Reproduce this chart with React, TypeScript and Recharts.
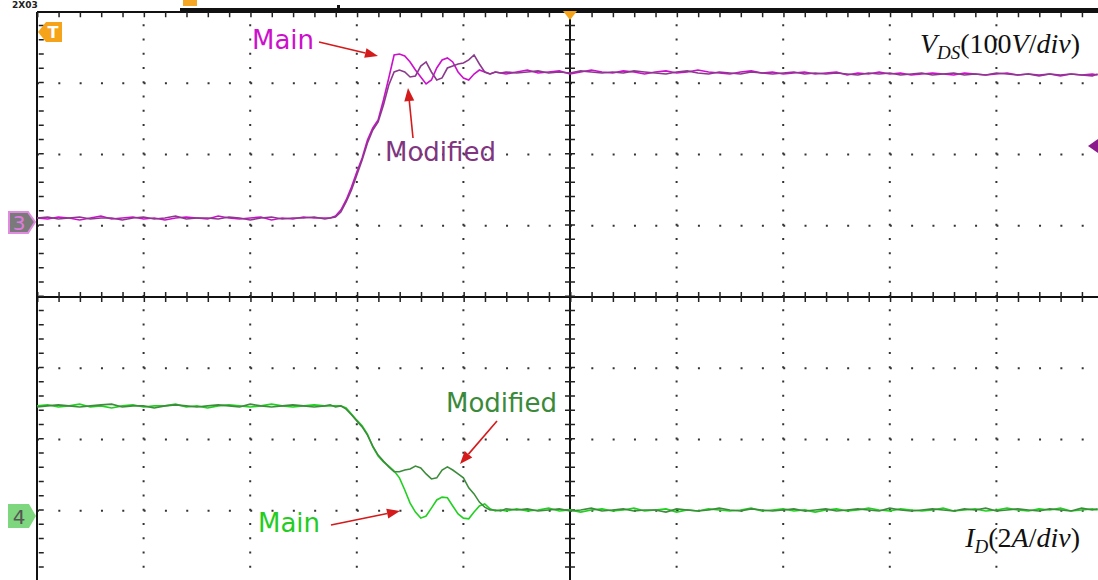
import { LineChart, Line, XAxis, YAxis, ReferenceLine } from 'recharts';

// time in scope divisions (10 div across the screen)
const timeLeft = [
  0.0, 0.1, 0.2, 0.3, 0.4, 0.5, 0.6, 0.7, 0.8, 0.9,
  1.0, 1.1, 1.2, 1.3, 1.4, 1.5, 1.6, 1.7, 1.8, 1.9,
  2.0, 2.1, 2.2, 2.3, 2.4, 2.5, 2.6, 2.7,
];
const timeEdge = [
  2.75, 2.8, 2.85, 2.9, 2.95, 3.0, 3.05, 3.1, 3.15, 3.2,
  3.25, 3.3, 3.35, 3.4, 3.45, 3.5, 3.55, 3.6, 3.65, 3.7,
  3.75, 3.8, 3.85, 3.9, 3.95, 4.0, 4.05, 4.1, 4.15, 4.2,
  4.25, 4.3, 4.35, 4.4,
];
const timeRight = [
  4.5, 4.6, 4.7, 4.8, 4.9, 5.0, 5.1, 5.2, 5.3, 5.4,
  5.5, 5.6, 5.7, 5.8, 5.9, 6.0, 6.1, 6.2, 6.3, 6.4,
  6.5, 6.6, 6.7, 6.8, 6.9, 7.0, 7.1, 7.2, 7.3, 7.4,
  7.5, 7.6, 7.7, 7.8, 7.9, 8.0, 8.1, 8.2, 8.3, 8.4,
  8.5, 8.6, 8.7, 8.8, 8.9, 9.0, 9.1, 9.2, 9.3, 9.4,
  9.5, 9.6, 9.7, 9.8, 9.9, 9.95,
];

// V_DS in volts
const vdsMain = [
  5.6, 4.2, 7.0, 5.6, 2.8, 5.6, 8.4, 4.2, 5.6, 7.0,
  4.2, 5.6, 2.8, 5.6, 7.0, 5.6, 4.2, 8.4, 5.6, 4.2,
  5.6, 7.0, 2.8, 5.6, 4.2, 7.0, 5.6, 5.6,
  5.6, 8.4, 16.8, 30.9, 49.1, 70.2, 89.8, 115.1, 131.9, 143.2,
  171.2, 202.1, 234.4, 235.8, 233.0, 224.6, 213.3, 203.5, 193.7, 199.3,
  216.1, 227.4, 230.2, 224.6, 210.5, 202.1, 199.3, 207.7, 213.3, 210.5,
  207.7, 210.5, 209.1, 207.7,
  210.5, 213.3, 209.1, 210.5, 212.0, 207.7, 210.5, 213.3, 210.5, 209.1,
  212.0, 210.5, 207.7, 210.5, 212.0, 209.1, 210.5, 213.3, 210.5, 209.1,
  207.7, 210.5, 212.0, 209.1, 210.5, 207.7, 209.1, 210.5, 207.7, 209.1,
  210.5, 206.3, 209.1, 207.7, 210.5, 207.7, 209.1, 206.3, 207.7, 209.1,
  207.7, 206.3, 209.1, 207.7, 206.3, 207.7, 209.1, 206.3, 207.7, 206.3,
  207.7, 205.0, 207.7, 206.3, 207.7, 206.3,
];
const vdsModified = [
  5.6, 7.0, 4.2, 5.6, 7.0, 4.2, 5.6, 5.6, 2.8, 5.6,
  7.0, 4.2, 5.6, 8.4, 4.2, 5.6, 5.6, 4.2, 7.0, 5.6,
  2.8, 5.6, 7.0, 4.2, 5.6, 5.6, 7.0, 4.2,
  5.6, 7.0, 14.0, 28.1, 44.9, 66.0, 87.0, 110.9, 129.1, 140.4,
  164.2, 192.3, 210.5, 213.3, 210.5, 203.5, 204.9, 218.9, 224.6, 210.5,
  199.3, 202.1, 216.1, 218.9, 221.7, 223.1, 227.4, 234.4, 221.7, 210.5,
  207.7, 210.5, 209.1, 210.5,
  209.1, 210.5, 212.0, 209.1, 210.5, 209.1, 212.0, 210.5, 209.1, 210.5,
  209.1, 212.0, 210.5, 209.1, 207.7, 210.5, 212.0, 209.1, 207.7, 210.5,
  209.1, 207.7, 210.5, 209.1, 207.7, 209.1, 210.5, 207.7, 209.1, 207.7,
  209.1, 207.7, 206.3, 209.1, 207.7, 209.1, 206.3, 207.7, 209.1, 206.3,
  207.7, 209.1, 206.3, 207.7, 206.3, 209.1, 207.7, 206.3, 207.7, 205.0,
  207.7, 206.3, 207.7, 206.3, 205.0, 207.7,
];

// I_D in amps
const idMain = [
  3.09, 3.12, 3.06, 3.09, 3.14, 3.06, 3.09, 3.03, 3.09, 3.12,
  3.06, 3.09, 3.09, 3.14, 3.06, 3.09, 3.03, 3.09, 3.12, 3.09,
  3.06, 3.09, 3.14, 3.09, 3.06, 3.09, 3.12, 3.09,
  3.09, 3.09, 3.09, 3.03, 2.86, 2.69, 2.53, 2.30, 1.94, 1.68,
  1.52, 1.40, 1.26, 1.07, 0.73, 0.36, 0.11, -0.06, 0.00, 0.22,
  0.45, 0.53, 0.51, 0.28, 0.06, -0.06, -0.08, 0.11, 0.28, 0.34,
  0.20, 0.14, 0.17, 0.14,
  0.20, 0.14, 0.17, 0.22, 0.14, 0.17, 0.11, 0.17, 0.20, 0.14,
  0.17, 0.22, 0.14, 0.17, 0.20, 0.11, 0.17, 0.14, 0.20, 0.17,
  0.14, 0.17, 0.22, 0.14, 0.17, 0.20, 0.14, 0.17, 0.11, 0.17,
  0.20, 0.14, 0.17, 0.22, 0.17, 0.14, 0.20, 0.17, 0.14, 0.17,
  0.22, 0.14, 0.17, 0.20, 0.14, 0.17, 0.22, 0.17, 0.14, 0.20,
  0.17, 0.22, 0.14, 0.17, 0.20, 0.17,
];
const idModified = [
  3.06, 3.09, 3.12, 3.09, 3.06, 3.09, 3.12, 3.14, 3.06, 3.09,
  3.09, 3.03, 3.09, 3.12, 3.09, 3.06, 3.09, 3.12, 3.09, 3.06,
  3.14, 3.09, 3.06, 3.09, 3.12, 3.09, 3.06, 3.09,
  3.12, 3.06, 3.09, 3.00, 2.84, 2.67, 2.50, 2.27, 1.96, 1.71,
  1.54, 1.38, 1.24, 1.24, 1.29, 1.32, 1.40, 1.35, 1.18, 1.04,
  1.07, 1.29, 1.38, 1.29, 1.18, 1.07, 0.79, 0.62, 0.39, 0.25,
  0.17, 0.17, 0.14, 0.20,
  0.17, 0.20, 0.14, 0.17, 0.20, 0.14, 0.17, 0.22, 0.14, 0.17,
  0.20, 0.14, 0.17, 0.17, 0.11, 0.20, 0.17, 0.14, 0.17, 0.22,
  0.17, 0.14, 0.20, 0.17, 0.14, 0.17, 0.20, 0.14, 0.17, 0.20,
  0.14, 0.17, 0.20, 0.17, 0.14, 0.22, 0.17, 0.14, 0.17, 0.20,
  0.17, 0.14, 0.20, 0.17, 0.22, 0.14, 0.17, 0.20, 0.17, 0.14,
  0.20, 0.17, 0.14, 0.22, 0.17, 0.20,
];

const gridX = [1, 2, 3, 4, 6, 7, 8, 9];
const gridY = [1, 2, 3, 5, 6, 7];

const time = [...timeLeft, ...timeEdge, ...timeRight];
const data = time.map((t, i) => ({
  t,
  vMain: vdsMain[i],
  vMod: vdsModified[i],
  iMain: idMain[i],
  iMod: idModified[i],
}));

const labelFont = '"DejaVu Sans", Verdana, sans-serif';
const mathFont = '"Liberation Serif", "DejaVu Serif", serif';

function Arrow({ x1, y1, x2, y2 }: { x1: number; y1: number; x2: number; y2: number }) {
  const a = Math.atan2(y2 - y1, x2 - x1);
  const len = 13;
  const w = 5;
  const bx = x2 - len * Math.cos(a);
  const by = y2 - len * Math.sin(a);
  const p1 = `${bx + w * Math.sin(a)},${by - w * Math.cos(a)}`;
  const p2 = `${bx - w * Math.sin(a)},${by + w * Math.cos(a)}`;
  return (
    <g>
      <line x1={x1} y1={y1} x2={bx} y2={by} stroke="#d41a1a" strokeWidth={1.6} />
      <polygon points={`${x2},${y2} ${p1} ${p2}`} fill="#d41a1a" />
    </g>
  );
}

export default function App() {
  return (
    <div style={{ position: 'absolute', left: 0, top: 0, width: 1098, height: 580, overflow: 'hidden', background: '#fff' }}>
      <LineChart width={1103} height={582} data={data} margin={{ top: 12, right: 0, bottom: 0, left: 37 }}>
        <XAxis dataKey="t" type="number" domain={[0, 10]} hide allowDataOverflow />
        <YAxis yAxisId="grid" type="number" domain={[0, 8]} hide allowDataOverflow />
        <YAxis yAxisId="v" type="number" domain={[-505.3, 294.7]} hide allowDataOverflow />
        <YAxis yAxisId="i" type="number" domain={[-1.853, 14.147]} hide allowDataOverflow />

        {gridX.map((x) => (
          <ReferenceLine key={`gx${x}`} x={x} yAxisId="grid" stroke="#333" strokeWidth={2} strokeDasharray="2 12.25" />
        ))}
        {gridY.map((y) => (
          <ReferenceLine key={`gy${y}`} y={y} yAxisId="grid" stroke="#333" strokeWidth={2} strokeDasharray="2 19.32" />
        ))}
        <ReferenceLine x={5} yAxisId="grid" stroke="#111" strokeWidth={2} />
        <ReferenceLine y={4} yAxisId="grid" stroke="#111" strokeWidth={2} />
        <ReferenceLine x={5} yAxisId="grid" stroke="#222" strokeWidth={10} strokeDasharray="1.5 12.75" />
        <ReferenceLine y={4} yAxisId="grid" stroke="#222" strokeWidth={10} strokeDasharray="1.5 19.82" />
        <ReferenceLine x={0} yAxisId="grid" stroke="#111" strokeWidth={2} />
        <ReferenceLine x={0.04} yAxisId="grid" stroke="#222" strokeWidth={5} strokeDasharray="1.5 12.75" />
        <ReferenceLine y={8} yAxisId="grid" stroke="#111" strokeWidth={2} />
        <ReferenceLine y={7.96} yAxisId="grid" stroke="#222" strokeWidth={5} strokeDasharray="1.5 19.82" />

        <Line yAxisId="v" dataKey="vMain" stroke="#cc11cc" strokeWidth={1.6} dot={false} isAnimationActive={false} />
        <Line yAxisId="v" dataKey="vMod" stroke="#8a3a8a" strokeWidth={1.6} dot={false} isAnimationActive={false} />
        <Line yAxisId="i" dataKey="iMain" stroke="#22d022" strokeWidth={1.6} dot={false} isAnimationActive={false} />
        <Line yAxisId="i" dataKey="iMod" stroke="#3c8c3c" strokeWidth={1.6} dot={false} isAnimationActive={false} />
      </LineChart>

      <svg width={1098} height={580} style={{ position: 'absolute', left: 0, top: 0, pointerEvents: 'none' }}>
        {/* scope top bar */}
        <rect x={180} y={8} width={918} height={3} fill="#111" />
        <rect x={337} y={5} width={3} height={6} fill="#111" />
        <rect x={183} y={0} width={14} height={6} fill="#f5a623" />
        <text x={12} y={8} fontFamily={labelFont} fontSize={9} fontWeight="bold" fill="#222">2X03</text>

        {/* trigger markers */}
        <polygon points="563,11 577,11 570,20" fill="#f5a31b" />
        <polygon points="38,32 46,22 62,22 62,42 46,42" fill="#f5a31b" />
        <text x={53} y={38} textAnchor="middle" fontFamily={labelFont} fontSize={16} fontWeight="bold" fill="#fff">T</text>

        {/* channel markers */}
        <polygon points="9,212 28,212 35,222 28,233 9,233" fill="#7a7a7a" stroke="#e08ae0" strokeWidth={2} />
        <text x={19} y={230} textAnchor="middle" fontFamily={labelFont} fontSize={20} fill="#e07ae0">3</text>
        <polygon points="8,504 29,504 36,516 29,528 8,528" fill="#7ed67e" />
        <text x={19} y={524} textAnchor="middle" fontFamily={labelFont} fontSize={20} fill="#555">4</text>
        <polygon points="1088,146 1098,139 1098,153" fill="#8b1a8b" />

        {/* annotations */}
        <text x={252} y={49} fontFamily={labelFont} fontSize={26} fill="#cc11cc">Main</text>
        <Arrow x1={319} y1={42} x2={378} y2={56} />
        <text x={385} y={161} fontFamily={labelFont} fontSize={26} fill="#7f3580">Modified</text>
        <Arrow x1={413} y1={138} x2={408} y2={88} />
        <text x={446} y={412} fontFamily={labelFont} fontSize={26} fill="#3a8a3a">Modified</text>
        <Arrow x1={497} y1={421} x2={460} y2={464} />
        <text x={258} y={532} fontFamily={labelFont} fontSize={26} fill="#22cc22">Main</text>
        <Arrow x1={331} y1={525} x2={400} y2={511} />

        <text x={1080} y={53} textAnchor="end" fontFamily={mathFont} fontSize={28} fill="#111">
          <tspan fontStyle="italic">V</tspan>
          <tspan fontStyle="italic" fontSize={19} dy={6}>DS</tspan>
          <tspan dy={-6}>(100</tspan>
          <tspan fontStyle="italic">V</tspan>
          <tspan>/</tspan>
          <tspan fontStyle="italic">div</tspan>
          <tspan>)</tspan>
        </text>
        <text x={1080} y={547} textAnchor="end" fontFamily={mathFont} fontSize={28} fill="#111">
          <tspan fontStyle="italic">I</tspan>
          <tspan fontStyle="italic" fontSize={19} dy={6}>D</tspan>
          <tspan dy={-6}>(2</tspan>
          <tspan fontStyle="italic">A</tspan>
          <tspan>/</tspan>
          <tspan fontStyle="italic">div</tspan>
          <tspan>)</tspan>
        </text>
      </svg>
    </div>
  );
}
